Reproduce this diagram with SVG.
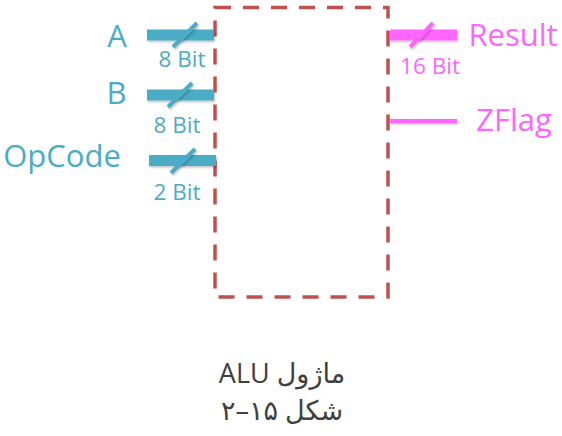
<svg xmlns="http://www.w3.org/2000/svg" width="562" height="436" viewBox="0 0 562 436">
<defs>
<filter id="sh" filterUnits="userSpaceOnUse" x="0" y="0" width="562" height="436">
<feDropShadow dx="1" dy="1.5" stdDeviation="1" flood-color="#000" flood-opacity="0.25"/>
</filter>
</defs>
<style>
.lbl{font-family:"Open Sans","Liberation Sans",sans-serif;text-anchor:middle}
.big{font-size:31px}
.sm{font-size:22.5px}
.blue{fill:#4BACC6}
.mag{fill:#FF66FF}
.bs{stroke:#4BACC6;stroke-width:4;filter:url(#sh)}
.ms{stroke:#FF66FF;stroke-width:4;filter:url(#sh)}
.cap{font-family:"Open Sans","DejaVu Sans",sans-serif;font-size:27px;fill:#404040;text-anchor:middle}
</style>
<g id="alu">
<path d="M215,7.5 H388 V297 H215 Z" fill="none" stroke="#C0504D" stroke-width="3.5" stroke-dasharray="16 12"/>
</g>
<g id="connectors">
<rect class="blue" x="147" y="29.5" width="67" height="11" filter="url(#sh)"/>
<line class="bs" x1="173" y1="47" x2="197" y2="23"/>
<rect class="blue" x="147" y="89.5" width="67" height="11" filter="url(#sh)"/>
<line class="bs" x1="168" y1="107" x2="192" y2="83"/>
<rect class="blue" x="149" y="155" width="67" height="11" filter="url(#sh)"/>
<line class="bs" x1="171" y1="173" x2="195" y2="149"/>
<rect class="mag" x="390" y="29.5" width="67" height="11" filter="url(#sh)"/>
<line class="ms" x1="410" y1="47" x2="433" y2="23"/>
<rect class="mag" x="390" y="119" width="67" height="4" filter="url(#sh)"/>
</g>
<g id="in-a"><text class="lbl big blue" x="117" y="47">A</text><text class="lbl sm blue" x="182" y="67">8 Bit</text></g>
<g id="in-b"><text class="lbl big blue" x="116.5" y="104">B</text><text class="lbl sm blue" x="177" y="133">8 Bit</text></g>
<g id="in-opcode"><text class="lbl big blue" x="62" y="167">OpCode</text><text class="lbl sm blue" x="177" y="200">2 Bit</text></g>
<g id="out-result"><text class="lbl big mag" x="513" y="46">Result</text><text class="lbl sm mag" x="430" y="74">16 Bit</text></g>
<g id="out-zflag"><text class="lbl big mag" x="514" y="131">ZFlag</text></g>
<g id="caption">
<text class="cap" x="282" y="383" direction="rtl">ماژول ALU</text>
<text class="cap" x="282" y="420" direction="rtl">شکل ۱۵–۲</text>
</g>
</svg>
